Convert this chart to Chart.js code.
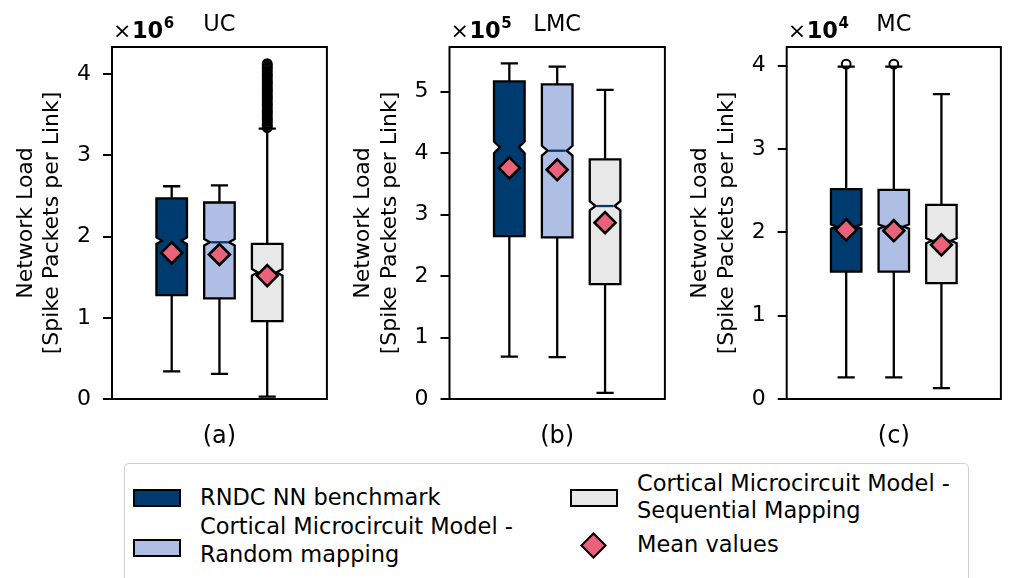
<!DOCTYPE html>
<html>
<head>
<meta charset="utf-8">
<script src="https://cdn.jsdelivr.net/npm/chart.js@4.4.1/dist/chart.umd.min.js"></script>
<style>
  html, body { margin: 0; padding: 0; background: #ffffff; }
  body { width: 1014px; height: 578px; overflow: hidden; position: relative; font-family: 'DejaVu Sans', sans-serif; }
  canvas.panel { position: absolute; top: 0; }
  #legend { position: absolute; left: 124px; top: 463px; width: 845px; height: 140px; border: 1.8px solid #cfcfcf; border-radius: 5px; box-sizing: border-box; background: #fff; }
  .sw { position: absolute; width: 48px; height: 18px; border: 2.2px solid #000; box-sizing: border-box; }
  .lt { position: absolute; font-size: 22.5px; line-height: 27.5px; color: #000; white-space: nowrap; }
  .dia { position: absolute; width: 19px; height: 19px; border: 2.5px solid #000; box-sizing: border-box; transform: rotate(45deg); }
</style>
</head>
<body>
<canvas id="c0" class="panel" width="340" height="460" style="left:0px"></canvas>
<canvas id="c1" class="panel" width="338" height="460" style="left:340px"></canvas>
<canvas id="c2" class="panel" width="334" height="460" style="left:680px"></canvas>

<div id="legend"></div>

<script>
// ---------------- DATA ----------------
const categories = ['RNDC NN benchmark', 'Cortical Microcircuit Model - Random mapping', 'Cortical Microcircuit Model - Sequential Mapping'];
const panelTitles = ['UC', 'LMC', 'MC'];
const panelLabels = ['(a)', '(b)', '(c)'];
const panelExponents = ['6', '5', '4'];
const yTickValues = [[0, 1, 2, 3, 4], [0, 1, 2, 3, 4, 5], [0, 1, 2, 3, 4]];
const yAxisMax = [4.335, 5.728, 4.225];
const yAxisTitle = ['Network Load', '[Spike Packets per Link]'];

// UC (values in units of 10^6)
const ucWhiskerLow  = [0.34, 0.31, 0.03];
const ucQ1          = [1.28, 1.24, 0.96];
const ucNotchLow    = [1.91, 1.89, 1.52];
const ucMedian      = [1.95, 1.93, 1.56];
const ucNotchHigh   = [1.99, 1.97, 1.60];
const ucQ3          = [2.47, 2.42, 1.91];
const ucWhiskerHigh = [2.62, 2.63, 3.33];
const ucMean        = [1.80, 1.78, 1.52];
const ucOutliers    = [[], [], [
  3.34, 3.35, 3.37, 3.38, 3.40, 3.42, 3.44, 3.45, 3.47, 3.49, 3.51, 3.53, 3.54, 3.56, 3.58,
  3.60, 3.62, 3.63, 3.65, 3.67, 3.69, 3.71, 3.72, 3.74, 3.76, 3.78, 3.80, 3.81, 3.83, 3.85,
  3.87, 3.89, 3.90, 3.92, 3.94, 3.96, 3.98, 3.99, 4.01, 4.03, 4.05, 4.07, 4.08, 4.10, 4.12, 4.13]];

// LMC (values in units of 10^5)
const lmcWhiskerLow  = [0.69, 0.68, 0.10];
const lmcQ1          = [2.65, 2.63, 1.87];
const lmcNotchLow    = [4.00, 3.96, 3.07];
const lmcMedian      = [4.10, 4.04, 3.14];
const lmcNotchHigh   = [4.19, 4.12, 3.22];
const lmcQ3          = [5.17, 5.12, 3.90];
const lmcWhiskerHigh = [5.46, 5.41, 5.03];
const lmcMean        = [3.76, 3.73, 2.87];
const lmcOutliers    = [[], [], []];

// MC (values in units of 10^4)
const mcWhiskerLow  = [0.26, 0.26, 0.13];
const mcQ1          = [1.53, 1.53, 1.39];
const mcNotchLow    = [2.045, 2.045, 1.87];
const mcMedian      = [2.07, 2.07, 1.90];
const mcNotchHigh   = [2.095, 2.095, 1.93];
const mcQ3          = [2.52, 2.51, 2.33];
const mcWhiskerHigh = [3.99, 3.99, 3.66];
const mcMean        = [2.03, 2.02, 1.85];
const mcOutliers    = [[4.02], [4.02], []];

// ---------------- STYLE ----------------
const boxColors = ['#003b6f', '#aebee4', '#e8e8e8'];
const medianColor = '#003b6f';
const meanColor = '#e9627a';
const BOX_W = 0.64, CAP_W = 0.36, NOTCH_FRAC = 0.62;
const LINE_W = 2.3;
const FONT = "'DejaVu Sans', sans-serif";

const panels = [
  { wlo: ucWhiskerLow, q1: ucQ1, nlo: ucNotchLow, med: ucMedian, nhi: ucNotchHigh, q3: ucQ3, whi: ucWhiskerHigh, mean: ucMean, out: ucOutliers },
  { wlo: lmcWhiskerLow, q1: lmcQ1, nlo: lmcNotchLow, med: lmcMedian, nhi: lmcNotchHigh, q3: lmcQ3, whi: lmcWhiskerHigh, mean: lmcMean, out: lmcOutliers },
  { wlo: mcWhiskerLow, q1: mcQ1, nlo: mcNotchLow, med: mcMedian, nhi: mcNotchHigh, q3: mcQ3, whi: mcWhiskerHigh, mean: mcMean, out: mcOutliers }
];

// layout per panel: y-axis width (px), padding for axis title, right padding
const layoutCfg = [
  { yw: 112, tpad: 12.5, right: 3 },
  { yw: 109.5, tpad: 10, right: 3.5 },
  { yw: 106.7, tpad: 7.2, right: 2.3 }
];

Chart.defaults.font.family = FONT;
Chart.defaults.color = '#000';

function makePanel(idx) {
  const st = panels[idx];
  const L = layoutCfg[idx];

  const boxPlugin = {
    id: 'boxplot' + idx,
    beforeDatasetsDraw(chart) {
      const { ctx, scales: { x, y } } = chart;
      const Y = v => y.getPixelForValue(v);
      ctx.save();
      ctx.lineJoin = 'miter';
      for (let i = 0; i < st.q1.length; i++) {
        const pos = i + 1;
        const xc = x.getPixelForValue(pos);
        const hw = (x.getPixelForValue(pos + BOX_W / 2) - x.getPixelForValue(pos - BOX_W / 2)) / 2;
        const cw = (x.getPixelForValue(pos + CAP_W / 2) - x.getPixelForValue(pos - CAP_W / 2)) / 2;
        const nw = hw * NOTCH_FRAC;
        ctx.strokeStyle = '#000';
        ctx.lineWidth = LINE_W;
        // whiskers and caps
        ctx.beginPath();
        ctx.moveTo(xc, Y(st.q1[i])); ctx.lineTo(xc, Y(st.wlo[i]));
        ctx.moveTo(xc - cw, Y(st.wlo[i])); ctx.lineTo(xc + cw, Y(st.wlo[i]));
        ctx.moveTo(xc, Y(st.q3[i])); ctx.lineTo(xc, Y(st.whi[i]));
        ctx.moveTo(xc - cw, Y(st.whi[i])); ctx.lineTo(xc + cw, Y(st.whi[i]));
        ctx.stroke();
        // notched box
        ctx.beginPath();
        ctx.moveTo(xc - hw, Y(st.q1[i]));
        ctx.lineTo(xc + hw, Y(st.q1[i]));
        ctx.lineTo(xc + hw, Y(st.nlo[i]));
        ctx.lineTo(xc + nw, Y(st.med[i]));
        ctx.lineTo(xc + hw, Y(st.nhi[i]));
        ctx.lineTo(xc + hw, Y(st.q3[i]));
        ctx.lineTo(xc - hw, Y(st.q3[i]));
        ctx.lineTo(xc - hw, Y(st.nhi[i]));
        ctx.lineTo(xc - nw, Y(st.med[i]));
        ctx.lineTo(xc - hw, Y(st.nlo[i]));
        ctx.closePath();
        ctx.fillStyle = boxColors[i];
        ctx.fill();
        ctx.stroke();
        // median
        ctx.strokeStyle = medianColor;
        ctx.lineWidth = LINE_W;
        ctx.beginPath();
        ctx.moveTo(xc - nw + 1.2, Y(st.med[i]));
        ctx.lineTo(xc + nw - 1.2, Y(st.med[i]));
        ctx.stroke();
      }
      ctx.restore();
    },
    afterDatasetsDraw(chart) {
      const { ctx, chartArea: a } = chart;
      ctx.save();
      ctx.strokeStyle = '#000';
      ctx.lineWidth = 2;
      ctx.strokeRect(a.left, a.top, a.right - a.left, a.bottom - a.top);
      ctx.restore();
    },
    afterDraw(chart) {
      const { ctx, chartArea: a } = chart;
      const cx = (a.left + a.right) / 2;
      ctx.save();
      ctx.fillStyle = '#000';
      ctx.textBaseline = 'alphabetic';
      // panel title
      ctx.font = '22.5px ' + FONT;
      ctx.textAlign = 'center';
      ctx.fillText(panelTitles[idx], cx, 31);
      // panel label
      ctx.font = '24px ' + FONT;
      ctx.fillText(panelLabels[idx], cx, 443);
      // offset text  ×10^n
      ctx.textAlign = 'left';
      let xx = a.left + 1;
      ctx.font = '22px ' + FONT;
      ctx.fillText('\u00d7', xx, 37.5);
      xx += ctx.measureText('\u00d7').width + 0.5;
      ctx.font = 'bold 22.5px ' + FONT;
      ctx.fillText('10', xx, 37.5);
      xx += ctx.measureText('10').width + 0.5;
      ctx.font = 'bold 15px ' + FONT;
      ctx.fillText(panelExponents[idx], xx, 28);
      ctx.restore();
    }
  };

  const meanData = st.mean.map((v, i) => ({ x: i + 1, y: v }));
  const outData = [];
  st.out.forEach((arr, i) => arr.forEach(v => outData.push({ x: i + 1, y: v })));

  new Chart(document.getElementById('c' + idx), {
    type: 'scatter',
    data: {
      datasets: [
        {
          label: 'Outliers',
          data: outData,
          pointStyle: 'circle',
          pointRadius: 4.4,
          pointBorderWidth: 2,
          pointBorderColor: '#000',
          pointBackgroundColor: 'rgba(0,0,0,0)',
          order: 2
        },
        {
          label: 'Mean values',
          data: meanData,
          pointStyle: 'rectRot',
          pointRadius: 10.5,
          pointBorderWidth: 2.6,
          pointBorderColor: '#000',
          pointBackgroundColor: meanColor,
          order: 1
        }
      ]
    },
    options: {
      responsive: false,
      animation: false,
      devicePixelRatio: 1,
      events: [],
      layout: { padding: { top: 47, bottom: 61, left: 0, right: L.right } },
      plugins: { legend: { display: false }, tooltip: { enabled: false } },
      scales: {
        x: { type: 'linear', display: false, min: -0.25, max: 4.25 },
        y: {
          type: 'linear',
          min: 0,
          max: yAxisMax[idx],
          afterBuildTicks: s => { s.ticks = yTickValues[idx].map(v => ({ value: v })); },
          afterFit: s => { s.width = L.yw; },
          ticks: { autoSkip: false, padding: 12, color: '#000', font: { size: 22 }, callback: v => String(v) },
          grid: { drawOnChartArea: false, drawTicks: true, tickLength: 9, color: '#000', lineWidth: 2 },
          border: { display: false },
          title: {
            display: true,
            text: yAxisTitle,
            color: '#000',
            font: { size: 22, lineHeight: 1.22 },
            padding: { top: L.tpad, bottom: 0 }
          }
        }
      }
    },
    plugins: [boxPlugin]
  });
}

[0, 1, 2].forEach(makePanel);

// ---------------- LEGEND (HTML) ----------------
(function buildLegend() {
  const body = document.body;
  function el(cls, style, text) {
    const d = document.createElement('div');
    d.className = cls;
    Object.assign(d.style, style);
    if (text !== undefined) d.innerHTML = text;
    body.appendChild(d);
    return d;
  }
  el('sw', { left: '133px', top: '489px', background: boxColors[0] });
  el('lt', { left: '200px', top: '484px' }, categories[0]);
  el('sw', { left: '133px', top: '539px', background: boxColors[1] });
  el('lt', { left: '200px', top: '513px' }, 'Cortical Microcircuit Model -<br>Random mapping');
  el('sw', { left: '570px', top: '489px', background: boxColors[2] });
  el('lt', { left: '637px', top: '469.5px' }, 'Cortical Microcircuit Model -<br>Sequential Mapping');
  el('dia', { left: '584px', top: '535.5px', background: meanColor });
  el('lt', { left: '637px', top: '531px' }, 'Mean values');
})();
</script>
</body>
</html>
